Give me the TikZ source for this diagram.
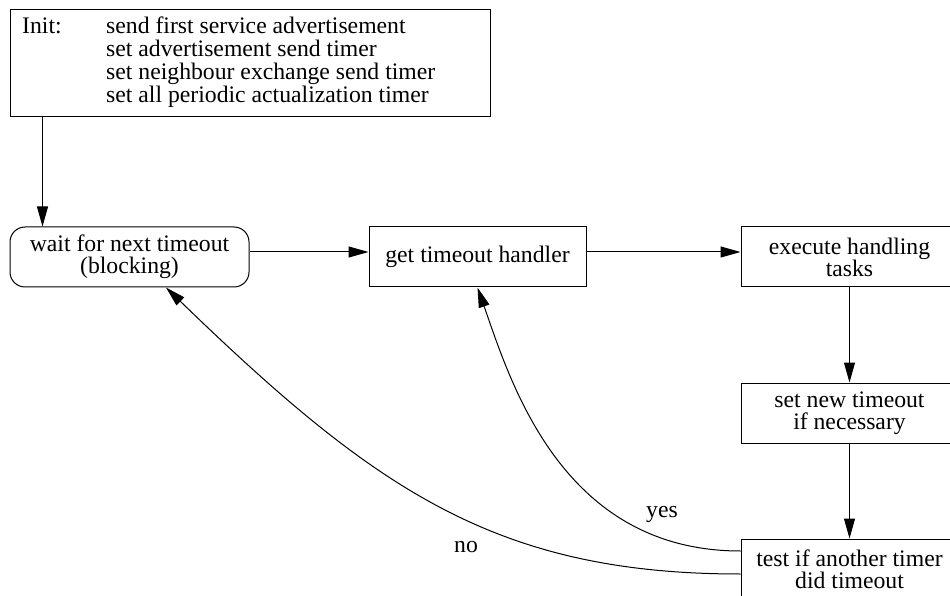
\documentclass[tikz,border=0pt]{standalone}
\usepackage{fontspec}
\setmainfont{Liberation Serif}
\usetikzlibrary{arrows.meta}
\begin{document}
\begin{tikzpicture}[x=1pt, y=1pt,
  every node/.style={font=\fontsize{23.7}{22}\selectfont},
  stepbox/.style={draw, line width=1pt, minimum width=217pt, minimum height=60pt,
    inner sep=0pt, align=center},
  waitbox/.style={stepbox, minimum width=239pt, rounded corners=15pt},
  flow/.style={line width=1pt, -{Triangle[length=20pt, width=11pt]}},
  lbl/.style={anchor=base, inner sep=0pt}]
  \clip (0,0) rectangle (950,595);

  % initialisation block
  \node[draw, line width=1pt, minimum width=480pt, minimum height=107pt] (init) at (250,531.5) {};
  \node[anchor=base west, inner sep=0pt] (inittext) at (22,561.3) {%
    \begin{tabular}[t]{@{}p{84pt}@{}l@{}}
      Init: & send first service advertisement\\
            & set advertisement send timer\\
            & set neighbour exchange send timer\\
            & set all periodic actualization timer
    \end{tabular}};

  % main loop
  \node[waitbox] (wait) at (129.5,338) {wait for next timeout\\(blocking)};
  \node[stepbox] (get)  at (477.5,338) {get timeout handler};
  \node[stepbox] (exec) at (849.5,338) {execute handling\\tasks};
  \node[stepbox] (setnew) at (849.5,182) {set new timeout\\if necessary};
  \node[stepbox] (test) at (849.5,26) {test if another timer\\did timeout};

  % connectors
  \draw[flow] ([xshift=33pt]init.south west) -- ([xshift=33pt]wait.north west);
  \draw[flow] ([yshift=5pt]wait.east) -- ([yshift=5pt]get.west);
  \draw[flow] ([yshift=5pt]get.east) -- ([yshift=5pt]exec.west);
  \draw[flow] (exec.south) -- (setnew.north);
  \draw[flow] (setnew.south) -- (test.north);
  \draw[flow] ([yshift=18pt]test.west) .. controls +(-179,0) and +(33,-94) .. (get.south);
  \draw[flow] ([yshift=-5pt]test.west) .. controls +(-245,0) and +(208.5,-201.6) .. ([xshift=36.5pt]wait.south);

  % branch labels
  \node[lbl] (yes) at (662,78) {yes};
  \node[lbl] (no) at (466,43) {no};
\end{tikzpicture}
\end{document}
